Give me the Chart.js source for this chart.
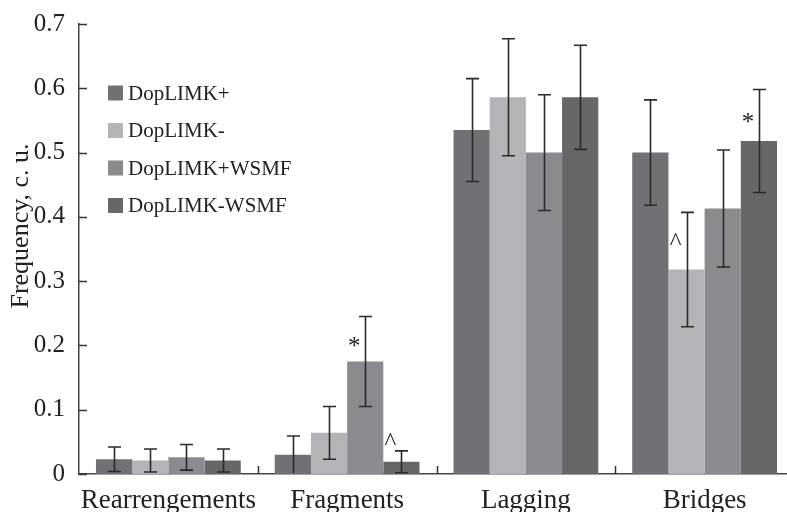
<!DOCTYPE html>
<html>
<head>
<meta charset="utf-8">
<script src="https://cdn.jsdelivr.net/npm/chart.js@4.4.1/dist/chart.umd.min.js"></script>
<style>
  html, body { margin: 0; padding: 0; background: #fff; overflow: hidden; }
  #wrap { width: 787px; height: 512px; overflow: hidden; }
</style>
</head>
<body>
<div id="wrap"><canvas id="myChart" width="796" height="512"></canvas></div>
<script>
// data
const categories = ["Rearrengements", "Fragments", "Lagging", "Bridges"];
const seriesNames = ["DopLIMK+", "DopLIMK-", "DopLIMK+WSMF", "DopLIMK-WSMF"];
const plusValues = [0.023, 0.030, 0.535, 0.500];
const minusValues = [0.021, 0.064, 0.586, 0.318];
const plusWsmfValues = [0.026, 0.175, 0.500, 0.413];
const minusWsmfValues = [0.021, 0.019, 0.586, 0.518];
const plusErrors = [0.019, 0.029, 0.080, 0.082];
const minusErrors = [0.018, 0.041, 0.091, 0.089];
const plusWsmfErrors = [0.020, 0.070, 0.090, 0.091];
const minusWsmfErrors = [0.018, 0.017, 0.081, 0.080];
// significance marks
const plusMarks = ["", "", "", ""];
const minusMarks = ["", "", "", "^"];
const plusWsmfMarks = ["", "*", "", ""];
const minusWsmfMarks = ["", "^", "", "*"];
const yTicks = [0, 0.1, 0.2, 0.3, 0.4, 0.5, 0.6, 0.7];

const colors = ["#717175", "#b3b4b7", "#8a8b8f", "#676769"];
const FONT = "'Liberation Serif', 'Times New Roman', serif";
const INK = "#222";

const errorBars = {
    id: "errorBars",
    afterDatasetsDraw(chart) {
        const ctx = chart.ctx;
        const y = chart.scales.y;
        ctx.save();
        ctx.strokeStyle = "#2a2a2a";
        ctx.lineWidth = 1.6;
        chart.data.datasets.forEach((ds, i) => {
            chart.getDatasetMeta(i).data.forEach((bar, j) => {
                const v = ds.data[j];
                const e = ds.errors[j];
                const top = y.getPixelForValue(v + e);
                const bot = y.getPixelForValue(Math.max(0, v - e));
                const x = Math.round(bar.x) + 0.5;
                ctx.beginPath();
                ctx.moveTo(x, top);
                ctx.lineTo(x, bot);
                ctx.moveTo(x - 6.5, top);
                ctx.lineTo(x + 6.5, top);
                if (v - e > 0.001) {
                    ctx.moveTo(x - 6.5, bot);
                    ctx.lineTo(x + 6.5, bot);
                }
                ctx.stroke();

                const mark = ds.marks[j];
                if (mark) {
                    const mid = (bar.y + top) / 2;
                    const my = Math.min(mid, bar.y - 20);
                    ctx.fillStyle = INK;
                    ctx.font = "25px " + FONT;
                    ctx.textAlign = "center";
                    ctx.textBaseline = "middle";
                    ctx.fillText(mark, bar.x - 11, my + (mark === "*" ? 8 : 2));
                }
            });
        });
        ctx.restore();
    }
};

const decorations = {
    id: "decorations",
    afterDraw(chart) {
        const ctx = chart.ctx;
        const area = chart.chartArea;
        const x = chart.scales.x;
        const y = chart.scales.y;
        ctx.save();
        ctx.strokeStyle = "#333";
        ctx.lineWidth = 1.5;
        // inward ticks on the value axis
        y.ticks.forEach((t) => {
            const py = Math.round(y.getPixelForValue(t.value)) + 0.5;
            ctx.beginPath();
            ctx.moveTo(area.left, py);
            ctx.lineTo(area.left + 8, py);
            ctx.stroke();
        });
        // small separators between categories
        for (let i = 0; i < categories.length - 1; i++) {
            const px = Math.round((x.getPixelForTick(i) + x.getPixelForTick(i + 1)) / 2) + 0.5;
            ctx.beginPath();
            ctx.moveTo(px, area.bottom);
            ctx.lineTo(px, area.bottom - 8);
            ctx.stroke();
        }
        // y title
        ctx.fillStyle = INK;
        ctx.font = "26px " + FONT;
        ctx.translate(21, (area.top + area.bottom) / 2 - 23);
        ctx.rotate(-Math.PI / 2);
        ctx.textAlign = "center";
        ctx.textBaseline = "middle";
        ctx.fillText("Frequency, c. u.", 0, 0);
        ctx.restore();

        // legend
        ctx.save();
        ctx.font = "21px " + FONT;
        ctx.textBaseline = "middle";
        ctx.textAlign = "left";
        chart.data.datasets.forEach((ds, i) => {
            const cy = area.top + 69 + i * 37.5;
            ctx.fillStyle = ds.backgroundColor;
            ctx.fillRect(area.left + 29, cy - 7.5, 15, 15);
            ctx.fillStyle = INK;
            ctx.fillText(ds.label, area.left + 49, cy + 1);
        });
        ctx.restore();
    }
};

const valueSets = [plusValues, minusValues, plusWsmfValues, minusWsmfValues];
const errorSets = [plusErrors, minusErrors, plusWsmfErrors, minusWsmfErrors];
const markSets = [plusMarks, minusMarks, plusWsmfMarks, minusWsmfMarks];

const ctx = document.getElementById("myChart").getContext("2d");
const myChart = new Chart(ctx, {
    type: "bar",
    data: {
        labels: categories,
        datasets: seriesNames.map((name, i) => ({
            label: name,
            data: valueSets[i],
            errors: errorSets[i],
            marks: markSets[i],
            backgroundColor: colors[i],
            borderWidth: 0,
            barPercentage: 1.0,
            categoryPercentage: 0.81,
        })),
    },
    options: {
        responsive: false,
        animation: false,
        devicePixelRatio: 1,
        layout: { padding: { top: 24, right: 2, left: 0, bottom: 0 } },
        plugins: {
            legend: { display: false },
            tooltip: { enabled: false },
        },
        scales: {
            x: {
                grid: { display: false },
                border: { display: true, color: "#444", width: 1.5 },
                ticks: { color: INK, font: { family: FONT, size: 27 }, padding: 3, maxRotation: 0 },
                afterFit: (scale) => { scale.height = 38; },
            },
            y: {
                min: 0,
                max: 0.7,
                afterBuildTicks: (scale) => { scale.ticks = yTicks.map((v) => ({ value: v })); },
                grid: { display: false },
                border: { display: true, color: "#444", width: 1.5 },
                ticks: {
                    color: INK,
                    font: { family: FONT, size: 25 },
                    padding: 6,
                    callback: (v) => (v === 0 ? "0" : v.toFixed(1)),
                },
                afterFit: (scale) => { scale.width = 79; },
            },
        },
    },
    plugins: [errorBars, decorations],
});
</script>
</body>
</html>
